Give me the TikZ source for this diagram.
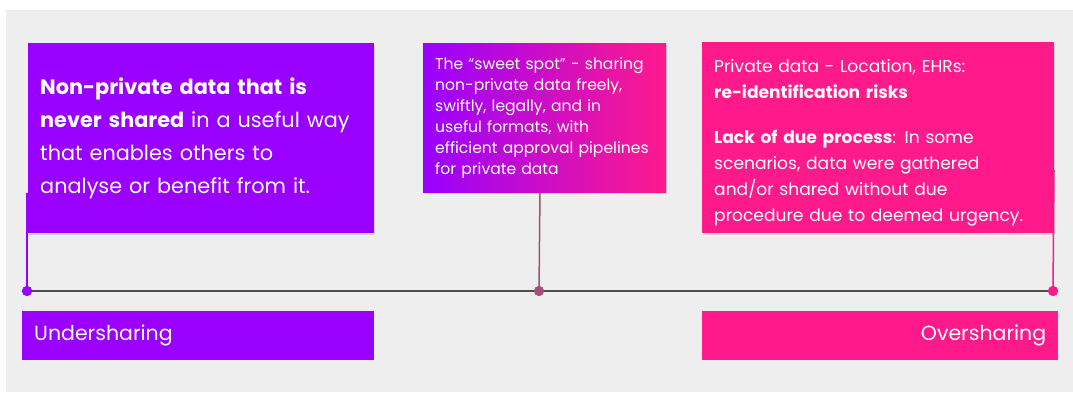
\documentclass[tikz,border=0pt]{standalone}
\usepackage{fontspec}
\setmainfont{Poppins}
\usetikzlibrary{shadows}
\definecolor{under}{HTML}{9900FF}
\definecolor{over}{HTML}{FF1A8C}
\definecolor{mid}{HTML}{A64D79}
\definecolor{canvas}{HTML}{EEEEEE}
\definecolor{axis}{HTML}{4D4D4D}

\begin{document}
\begin{tikzpicture}[x=1pt, y=-1pt,
    card/.style={anchor=north west, inner xsep=12pt, inner ysep=0pt, align=left, text=white,
        drop shadow={shadow xshift=1pt, shadow yshift=-2pt, opacity=0.25}},
    tag/.style={anchor=north west, inner xsep=12pt, inner ysep=0pt, minimum height=49pt,
        text=white, font=\fontsize{20.5}{24}\selectfont},
    pin/.style={circle, fill=#1, inner sep=0pt, minimum size=10pt},
    stem/.style={draw=#1, line width=1.5pt}]
    \useasboundingbox (0,0) rectangle (1073,393);
    \fill[canvas] (6,10) rectangle (1073,392);

    \node[pin=under] (dotL) at (27,291) {};
    \node[pin=mid] (dotM) at (539,291) {};
    \node[pin=over] (dotR) at (1053,291) {};
    \coordinate (topL) at (27,193);
    \coordinate (topM) at (540,190);
    \coordinate (topR) at (1054,170);

    \draw[axis, line width=1.5pt] (dotL) -- (dotR);
    \draw[stem=under] (dotL) -- (topL);
    \draw[stem=mid] (dotM) -- (topM);
    \draw[stem=over] (dotR) -- (topR);
    \node[pin=under] at (dotL) {};
    \node[pin=mid] at (dotM) {};
    \node[pin=over] at (dotR) {};

    \node[card, fill=under, text width=322pt, minimum height=190pt,
        font=\fontsize{20.8}{33}\selectfont] (never) at (28,43)
        {\textbf{Non-private data that is}\\
         \textbf{never shared} in a useful way\\
         that enables others to\\
         analyse or benefit from it.};
    \node[card, left color=under, right color=over, text width=219pt, minimum height=149pt,
        font=\fontsize{15.6}{21}\selectfont] (sweet) at (423,43)
        {The “sweet spot” - sharing\\
         non-private data freely,\\
         swiftly, legally, and in\\
         useful formats, with\\
         efficient approval pipelines\\
         for private data};
    \node[card, fill=over, text width=328pt, minimum height=191pt,
        font=\fontsize{17.1}{26}\selectfont] (risk) at (702,42)
        {\rule{0pt}{23pt}Private data - Location, EHRs:\\
         \textbf{re-identification risks}\\[19pt]
         \textbf{Lack of due process}: In some\\
         scenarios, data were gathered\\
         and/or shared without due\\
         procedure due to deemed urgency.};

    \node[tag, fill=under, text width=328pt, align=left] (undersharing) at (22,311) {Undersharing};
    \node[tag, fill=over, text width=332pt, align=right] (oversharing) at (702,311) {Oversharing};
\end{tikzpicture}
\end{document}
